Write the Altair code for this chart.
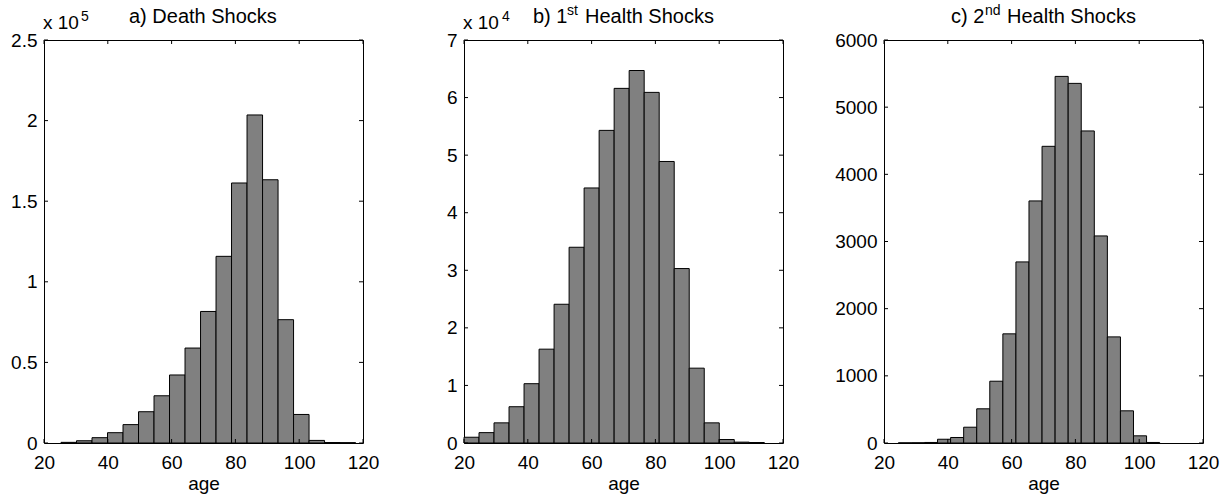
import altair as alt
import pandas as pd

FONT = "Liberation Sans"
W, H = 319, 403

# ---- data ----
age_ticks = [20, 40, 60, 80, 100, 120]

# a) Death shocks (units of 1e5), 19 bins
death_vals = [0.004, 0.014, 0.033, 0.064, 0.114, 0.194, 0.293, 0.422, 0.589, 0.816,
              1.158, 1.613, 2.035, 1.633, 0.765, 0.177, 0.016, 0.003, 0.002]
death_start, death_width = 25.33, 4.86
death_yticks = [0, 0.5, 1, 1.5, 2, 2.5]

# b) 1st health shocks (units of 1e4), 20 bins
h1_vals = [0.10, 0.18, 0.35, 0.63, 1.03, 1.63, 2.41, 3.40, 4.43, 5.43,
           6.16, 6.47, 6.09, 4.89, 3.03, 1.30, 0.35, 0.06, 0.015, 0.008]
h1_start, h1_width = 20.0, 4.707
h1_yticks = [0, 1, 2, 3, 4, 5, 6, 7]

# c) 2nd health shocks (counts), 20 bins
h2_vals = [2, 3, 8, 56, 82, 235, 509, 920, 1625, 2696,
           3604, 4417, 5458, 5354, 4646, 3083, 1580, 479, 107, 8]
h2_start, h2_width = 24.5, 4.095
h2_yticks = [0, 1000, 2000, 3000, 4000, 5000, 6000]


def text_piece(txt, x, y, size):
    return alt.Chart(alt.Data(values=[{}])).mark_text(
        text=txt, align="left", baseline="alphabetic", font=FONT,
        fontSize=size, color="black"
    ).encode(x=alt.value(x), y=alt.value(y))


def panel(vals, start, width, ymax, yticks, pieces):
    df = pd.DataFrame({
        "x": [start + i * width for i in range(len(vals))],
        "x2": [start + (i + 1) * width for i in range(len(vals))],
        "y": vals,
    })
    xscale = alt.Scale(domain=[20, 120], nice=False, zero=False)
    yscale = alt.Scale(domain=[0, ymax], nice=False)
    xaxis = alt.Axis(values=age_ticks, title="age", labelPadding=10, titlePadding=2)
    yaxis = alt.Axis(values=yticks, title=None, labelPadding=7, labelExpr="'' + datum.value")
    bars = alt.Chart(df).mark_rect(fill="#808080", stroke="black", strokeWidth=1).encode(
        x=alt.X("x:Q", scale=xscale, axis=xaxis),
        x2="x2:Q",
        y=alt.Y("y:Q", scale=yscale, axis=yaxis),
        y2=alt.datum(0),
    )
    xt = pd.DataFrame({"x": age_ticks})
    yt = pd.DataFrame({"y": yticks})
    tb = alt.Chart(xt).mark_rule(color="black", strokeWidth=1).encode(
        x=alt.X("x:Q", axis=xaxis), y=alt.value(H), y2=alt.value(H - 4))
    tt = alt.Chart(xt).mark_rule(color="black", strokeWidth=1).encode(
        x=alt.X("x:Q", axis=xaxis), y=alt.value(0), y2=alt.value(4))
    tl = alt.Chart(yt).mark_rule(color="black", strokeWidth=1).encode(
        y=alt.Y("y:Q", axis=yaxis), x=alt.value(0), x2=alt.value(4))
    tr = alt.Chart(yt).mark_rule(color="black", strokeWidth=1).encode(
        y=alt.Y("y:Q", axis=yaxis), x=alt.value(W), x2=alt.value(W - 4))
    texts = [text_piece(*p) for p in pieces]
    return alt.layer(bars, tb, tt, tl, tr, *texts).properties(width=W, height=H)


pa = panel(death_vals, death_start, death_width, 2.5, death_yticks, [
    ("a) Death Shocks", 85, -17, 20),
    ("x 10", -1, -11, 19),
    ("5", 37, -19, 14),
])
pb = panel(h1_vals, h1_start, h1_width, 7, h1_yticks, [
    ("b) 1", 69, -17, 20),
    ("st", 103, -25, 14),
    ("Health Shocks", 121, -17, 20),
    ("x 10", -1, -11, 19),
    ("4", 38, -19, 14),
])
pc = panel(h2_vals, h2_start, h2_width, 6000, h2_yticks, [
    ("c) 2", 67, -17, 20),
    ("nd", 101, -25, 14),
    ("Health Shocks", 123, -17, 20),
])

chart = alt.hconcat(pa, pb, pc, spacing=101, bounds="flush").properties(
    padding={"left": 10, "top": 3, "right": 5, "bottom": 5}
).configure_view(
    stroke="black", strokeWidth=1
).configure_axis(
    ticks=False, tickSize=0, domain=False, grid=False,
    labelFont=FONT, labelFontSize=19, labelColor="black",
    titleFont=FONT, titleFontSize=19, titleColor="black", titleFontWeight="normal",
    labelFlush=False, labelOverlap=False, labelBound=False,
)

chart.save("out.html", embed_options={"renderer": "svg", "actions": False})
